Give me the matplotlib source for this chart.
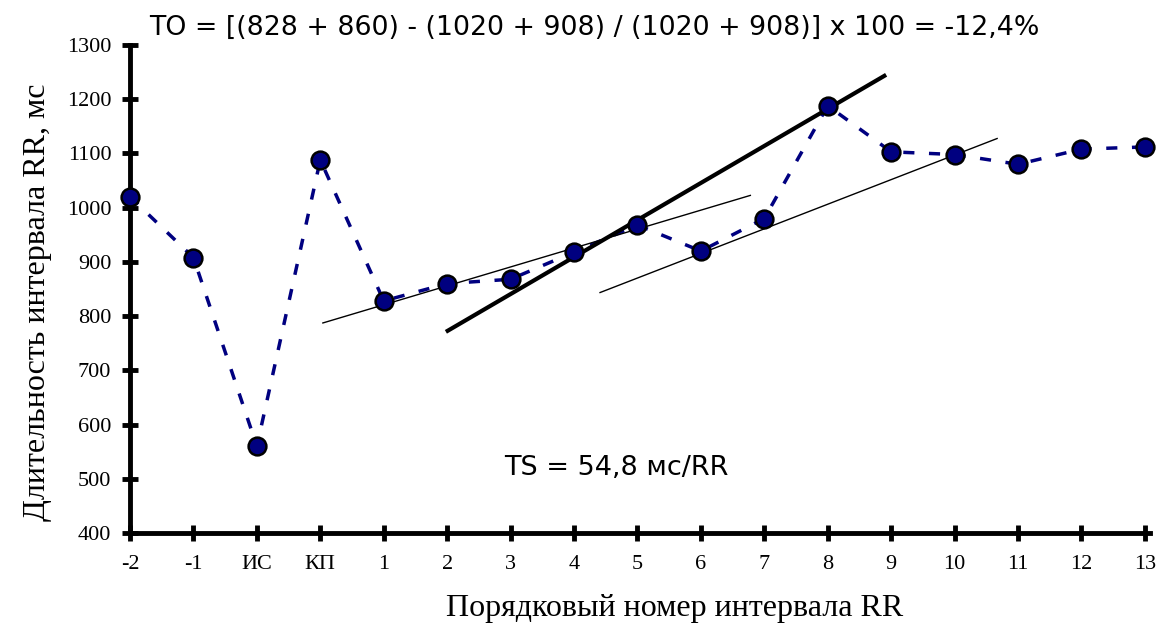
### RR interval duration after extrasystole - turbulence onset / slope
import numpy as np
import matplotlib.pyplot as plt

categories = ["-2", "-1", "ИС", "КП", "1", "2", "3", "4", "5", "6", "7",
              "8", "9", "10", "11", "12", "13"]
rr_ms = [1020, 908, 560, 1088, 828, 860, 868, 918, 968, 920, 980,
         1188, 1103, 1098, 1080, 1108, 1112]

# regression lines: (x start, x end) in category index, (y start, y end) in ms
fit_x = [(3.03, 9.79), (4.98, 11.92), (7.40, 13.68)]
fit_y = [(787, 1023), (771, 1245), (843, 1128)]
fit_lw = [1.0, 3.0, 1.0]

title_str = "TO = [(828 + 860) - (1020 + 908) / (1020 + 908)] x 100 = -12,4%"
ts_str = "TS = 54,8 мс/RR"

fig = plt.figure(figsize=(11.59, 6.26), dpi=100)
ax = fig.add_axes([130/1159, 1 - 533/626, 1020/1159, 488/626])

xx = np.arange(len(categories))
ax.plot(xx, rr_ms, color='#000080', lw=2.5, dashes=(3.2, 4.2), zorder=2,
        clip_on=False)
ax.plot(xx, rr_ms, ls='none', marker='o', ms=12.8, mfc='#000080', mec='black',
        mew=1.8, zorder=4, clip_on=False)

for fx, fy, lw in zip(fit_x, fit_y, fit_lw):
    ax.plot(fx, fy, color='black', lw=lw, zorder=3, solid_capstyle='butt')

ax.set_xlim(0, 16.08)
ax.set_ylim(400, 1300)
ax.set_xticks(xx)
ax.set_xticklabels(categories)
ax.set_yticks(np.arange(400, 1301, 100))

for s in ['top', 'right']:
    ax.spines[s].set_visible(False)
for s in ['left', 'bottom']:
    ax.spines[s].set_linewidth(3.5)
ax.tick_params(direction='inout', length=11, width=3.5, pad=8,
               labelsize=16, labelfontfamily='Liberation Serif')
ax.tick_params(axis='x', pad=10)

ax.set_ylabel("Длительность интервала RR, мс", fontsize=23,
              family='Liberation Serif', labelpad=10)
ax.yaxis.set_label_coords(-0.076, 0.473)
ax.set_xlabel("Порядковый номер интервала RR", fontsize=23,
              family='Liberation Serif', labelpad=14)
ax.xaxis.set_label_coords(0.534, -0.125)

fig.text(0.513, 0.955, title_str, ha='center', va='center', fontsize=19.3,
         family='DejaVu Sans')
fig.text(0.532, 0.252, ts_str, ha='center', va='center', fontsize=19.5,
         family='DejaVu Sans')

fig.savefig("out.png", dpi=100)
